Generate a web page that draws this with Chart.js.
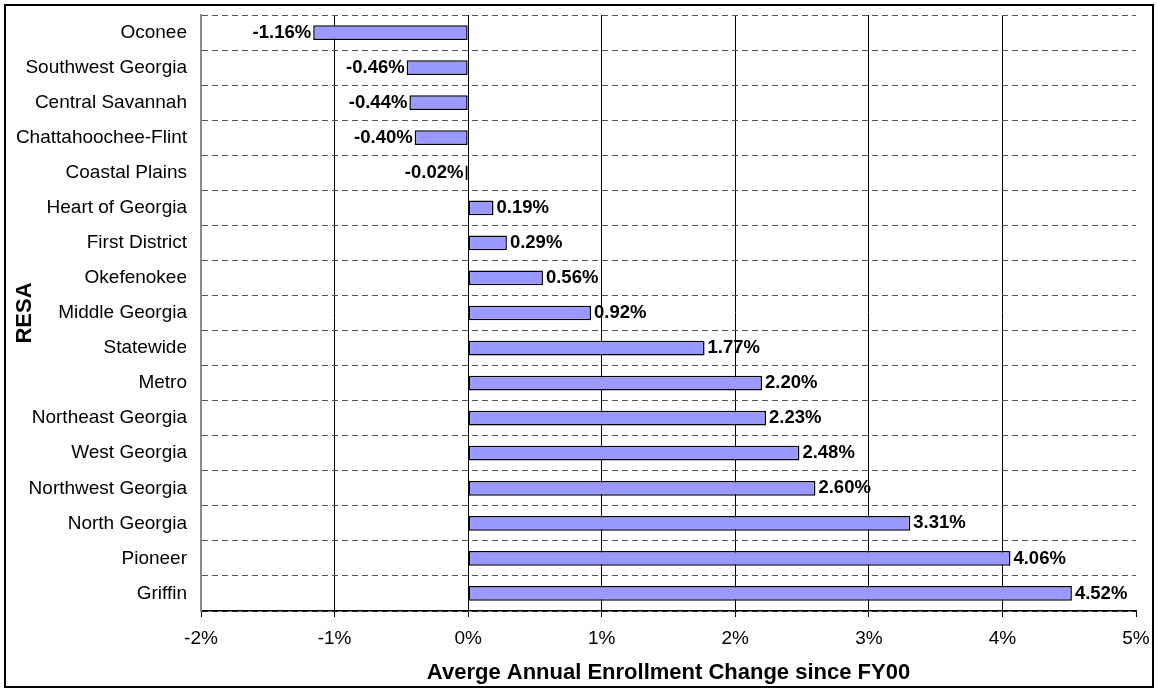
<!DOCTYPE html>
<html>
<head>
<meta charset="utf-8">
<script src="https://cdn.jsdelivr.net/npm/chart.js@4"></script>
<style>
  html, body { margin: 0; padding: 0; background: #fff; }
  #wrap { position: relative; width: 1158px; height: 691px; }
  #frame { position: absolute; left: 4px; top: 4px; width: 1146px; height: 680px; border: 2px solid #000; pointer-events: none; }
</style>
</head>
<body>
<div id="wrap">
  <canvas id="chart" width="1158" height="691"></canvas>
  <div id="frame"></div>
</div>
<script>
const regions = [
  "Oconee", "Southwest Georgia", "Central Savannah", "Chattahoochee-Flint",
  "Coastal Plains", "Heart of Georgia", "First District", "Okefenokee",
  "Middle Georgia", "Statewide", "Metro", "Northeast Georgia", "West Georgia",
  "Northwest Georgia", "North Georgia", "Pioneer", "Griffin"
];
const enrollmentChange = [
  -1.16, -0.46, -0.44, -0.40, -0.02, 0.19, 0.29, 0.56,
  0.92, 1.77, 2.20, 2.23, 2.48, 2.60, 3.31, 4.06, 4.52
];
const xTicks = [-2, -1, 0, 1, 2, 3, 4, 5];

const font = "'Liberation Sans', Arial, sans-serif";

// value labels at the end of each bar
const barLabels = {
  id: "barLabels",
  afterDatasetsDraw(chart) {
    const ctx = chart.ctx;
    const meta = chart.getDatasetMeta(0);
    ctx.save();
    ctx.font = "bold 18.5px " + font;
    ctx.fillStyle = "#000";
    ctx.textBaseline = "middle";
    meta.data.forEach((bar, i) => {
      const v = enrollmentChange[i];
      const txt = v.toFixed(2) + "%";
      if (v < 0) {
        ctx.textAlign = "right";
        ctx.fillText(txt, bar.x - 2, bar.y);
      } else {
        ctx.textAlign = "left";
        ctx.fillText(txt, bar.x + 3, bar.y);
      }
    });
    ctx.restore();
  }
};

new Chart(document.getElementById("chart"), {
  type: "bar",
  data: {
    labels: regions,
    datasets: [{
      data: enrollmentChange,
      backgroundColor: "#9999FF",
      borderColor: "#000",
      borderWidth: 1.5,
      borderSkipped: false,
      barPercentage: 0.42,
      categoryPercentage: 1
    }]
  },
  options: {
    indexAxis: "y",
    responsive: false,
    animation: false,
    layout: { padding: { left: 8, right: 22, top: 15, bottom: 5 } },
    plugins: {
      legend: { display: false },
      tooltip: { enabled: false }
    },
    scales: {
      x: {
        min: -2,
        max: 5,
        afterBuildTicks: s => { s.ticks = xTicks.map(v => ({ value: v })); },
        afterFit: s => {
          s.height = 75;
          s.paddingLeft = 0;
          s.paddingRight = 0;
        },
        grid: {
          color: c => (c.tick && c.tick.value === 5) ? "rgba(0,0,0,0)" : "#000",
          lineWidth: 1,
          tickLength: 6,
          tickColor: "#000"
        },
        border: { color: "#000", width: 1.5 },
        ticks: {
          color: "#000",
          font: { family: font, size: 19 },
          padding: 10,
          callback: v => v + "%"
        },
        title: {
          display: true,
          text: "Averge Annual Enrollment Change since FY00",
          color: "#000",
          font: { family: font, size: 22, weight: "bold" },
          padding: { top: 0, bottom: 0 }
        }
      },
      y: {
        afterFit: s => {
          s.width = 193;
          s.paddingTop = 0;
          s.paddingBottom = 0;
        },
        grid: {
          offset: true,
          color: "#555",
          lineWidth: 1,
          drawTicks: false
        },
        border: { color: "#888", width: 2, dash: [6, 4] },
        ticks: {
          color: "#000",
          font: { family: font, size: 19 },
          padding: 14,
          autoSkip: false
        },
        title: {
          display: true,
          text: "RESA",
          color: "#000",
          font: { family: font, size: 22, weight: "bold" },
          padding: { top: 4, bottom: 0 }
        }
      }
    }
  },
  plugins: [barLabels]
});
</script>
</body>
</html>
